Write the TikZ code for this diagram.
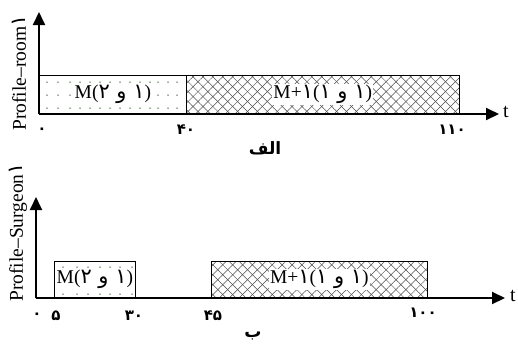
\documentclass[tikz,border=0pt]{standalone}
\usepackage{fontspec}
\setmainfont{Liberation Serif}
\newfontfamily\ar[Script=Arabic]{DejaVu Sans}
\TeXXeTstate=1
\usetikzlibrary{arrows.meta,patterns.meta}
\definecolor{dotgreen}{RGB}{45,95,35}
\tikzset{
  axis/.style={line width=2pt,-{Triangle[length=13pt,width=12pt]}},
  dotbox/.style={draw,line width=0.8pt,anchor=south west,inner sep=0pt},
  hatchbox/.style={draw,line width=0.8pt,anchor=south west,inner sep=0pt,
    pattern={Lines[angle=45,distance=7pt,line width=0.5pt]},pattern color=black!70,
    preaction={pattern={Lines[angle=-45,distance=7pt,line width=0.5pt]},pattern color=black!70}},
  dotmark/.style={fill=dotgreen},
  lbl/.style={fill=white,inner sep=1pt,font=\fontsize{19.5}{22}\selectfont},
  tick/.style={font=\ar\bfseries\fontsize{15}{17}\selectfont,inner sep=0pt},
  captxt/.style={font=\ar\bfseries\fontsize{17}{20}\selectfont,inner sep=0pt},
  ylab/.style={rotate=90,anchor=west,inner sep=0pt,font=\fontsize{19.5}{22}\selectfont},
  tlab/.style={font=\fontsize{20}{22}\selectfont,inner sep=0pt}
}
\newcommand{\fa}[1]{{\ar\fontsize{21}{22}\selectfont #1}}
\begin{document}
\begin{tikzpicture}[x=1pt,y=-1pt]
\useasboundingbox (0,0) rectangle (518,349);
% ---------- top chart ----------
\coordinate (o1) at (39,114);
\coordinate (ya1) at (39,12);
\coordinate (xa1) at (499,114);
\node[dotbox,minimum width=147pt,minimum height=38pt] (b1) at (39,114) {};
\foreach \x in {47,58,70,80,90,100,110,120,130,140,150,158,168,177}
  \foreach \y in {82,95,108}
    \fill[dotmark] (\x,\y) circle (0.75pt);
\node[hatchbox,minimum width=273pt,minimum height=38pt] (b2) at (186,114) {};
\node[lbl] (l1) at (b1.center) {M(\fa{\beginR ۱ و ۲\endR})};
\node[lbl] (l2) at (b2.center) {M+\fa{۱}(\fa{\beginR ۱ و ۱\endR})};
\draw[axis] (o1) -- (ya1);
\draw[axis] (o1) -- (xa1);
\node[tlab] (t1) at (506,112) {t};
\node[ylab] (y1) at (19,131) {Profile–room\fa{۱}};
\node[tick] (k10) at (42,131) {۰};
\node[tick] (k11) at (186,130) {۴۰};
\node[tick] (k12) at (452,130) {۱۱۰};
\node[captxt] (c1) at (265,148) {\beginR الف\endR};
% ---------- bottom chart ----------
\coordinate (o2) at (36,298);
\coordinate (ya2) at (36,197);
\coordinate (xa2) at (505,298);
\node[dotbox,minimum width=81pt,minimum height=36pt] (b3) at (54,298) {};
\foreach \x in {63,77,88,100,110,120,132}
  \foreach \y in {267,294}
    \fill[dotmark] (\x,\y) circle (0.75pt);
\node[hatchbox,minimum width=216pt,minimum height=36pt] (b4) at (211,298) {};
\node[lbl] (l3) at (b3.center) {M(\fa{\beginR ۱ و ۲\endR})};
\node[lbl] (l4) at (b4.center) {M+\fa{۱}(\fa{\beginR ۱ و ۱\endR})};
\draw[axis] (o2) -- (ya2);
\draw[axis] (o2) -- (xa2);
\node[tlab] (t2) at (513,296) {t};
\node[ylab] (y2) at (18,302) {Profile–Surgeon\fa{۱}};
\node[tick] (k20) at (37,316) {۰};
\node[tick] (k21) at (56,316) {۵};
\node[tick] (k22) at (134,316) {۳۰};
\node[tick] (k23) at (213,316) {۴۵};
\node[tick] (k24) at (423,313) {۱۰۰};
\node[captxt] (c2) at (253,336) {ب};
\end{tikzpicture}
\end{document}
